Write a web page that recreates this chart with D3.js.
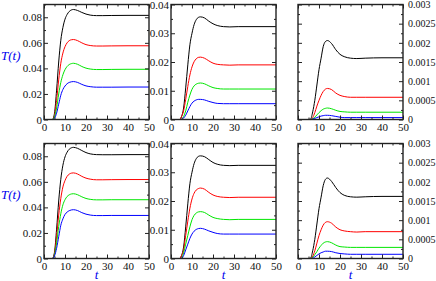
<!DOCTYPE html>
<html>
<head>
<meta charset="utf-8">
<script src="https://cdn.jsdelivr.net/npm/d3@7"></script>
<style>
  body { margin: 0; background: #fff; }
  svg { display: block; }
  text { font-family: "Liberation Serif", "DejaVu Serif", Times, serif; }
</style>
</head>
<body>
<div id="chart"></div>
<script>
// canvas size
const WIDTH = 436;
const HEIGHT = 281;
// panel layout
const COL_LEFT = [44, 171, 298];
const PANEL_W = 105;
const ROW_TOP = [4.5, 143.5];
const PANEL_H = 115;

// time axis samples
const tValues = [0, 4, 5, 6, 7, 8, 9, 10, 11, 12, 13, 14, 16, 18, 20, 22, 25, 28, 32, 40, 50];
const xTicks = [0, 10, 20, 30, 40, 50];
const xMinor = [5, 15, 25, 35, 45];

// per-column y ranges
const yMax = [0.09, 0.04, 0.003];
const yStep = [0.02, 0.01, 0.0005];

const lineColors = ["#000000", "#ff0000", "#00e600", "#0000ff"];

// series: black, red, green, blue
const topLeft = [
  [0, 0, .005, .023, .045, .062, .072, .0785, .0822, .0845, .0857, .0861, .0853, .0838, .0825, .0817, .0813, .0813, .0814, .0815, .0815],
  [0, 0, .003, .015, .031, .044, .052, .057, .0600, .0617, .0624, .0626, .0617, .0600, .0586, .0579, .0575, .0575, .0576, .0577, .0577],
  [0, 0, .002, .009, .020, .029, .035, .039, .0415, .0430, .0437, .0440, .0432, .0415, .0402, .0395, .0391, .0391, .0392, .0393, .0393],
  [0, 0, .001, .005, .012, .019, .0235, .0262, .0280, .0290, .0295, .0297, .0290, .0275, .0263, .0257, .0253, .0253, .0253, .0254, .0254]
];
const topMiddle = [
  [0, 0, .001, .004, .011, .019, .026, .030, .0330, .0347, .0355, .0357, .0353, .0342, .0333, .0327, .0323, .0322, .0323, .0323, .0323],
  [0, 0, .001, .003, .007, .0115, .0155, .0183, .0201, .0211, .0216, .0217, .0213, .0204, .0196, .0192, .0190, .0189, .0190, .0190, .0190],
  [0, 0, 0, .001, .003, .006, .0085, .0105, .0117, .0123, .0126, .0127, .0124, .0117, .0111, .0108, .0106, .0106, .0106, .0106, .0106],
  [0, 0, 0, .0005, .0015, .003, .0045, .0057, .0064, .0068, .0070, .0070, .0068, .0063, .0059, .0056, .0055, .0055, .0055, .0055, .0055]
];
const topRight = [
  [0, 0, 0, .00001, .0002, .0005, .0009, .0013, .0016, .0019, .00203, .00206, .00198, .00182, .0017, .00164, .0016, .00159, .0016, .00161, .00161],
  [0, 0, 0, 0, .00005, .00018, .00035, .0005, .00063, .00073, .00079, .00081, .00078, .00069, .00063, .0006, .00058, .00058, .00058, .00058, .00058],
  [0, 0, 0, 0, .00002, .00006, .00012, .00018, .00023, .00027, .00029, .0003, .00028, .00024, .00021, .0002, .00019, .00019, .00019, .00019, .00019],
  [0, 0, 0, 0, .00001, .00003, .00005, .00007, .00009, .0001, .00011, .00011, .0001, .00008, .00006, .00005, .00005, .00005, .00005, .00005, .00005]
];
const bottomLeft = [
  [0, 0, .005, .023, .045, .062, .073, .0795, .0832, .0855, .0866, .0870, .0862, .0845, .0829, .0819, .0813, .0812, .0812, .0813, .0813],
  [0, 0, .004, .017, .034, .047, .056, .061, .0643, .0660, .0668, .0670, .0661, .0643, .0629, .0621, .0616, .0616, .0617, .0618, .0618],
  [0, 0, .003, .012, .025, .035, .042, .046, .0485, .0498, .0505, .0507, .0499, .0483, .0470, .0463, .0459, .0459, .0460, .0460, .0460],
  [0, 0, .002, .008, .017, .026, .031, .0345, .0363, .0374, .0380, .0382, .0375, .0359, .0347, .0340, .0336, .0336, .0337, .0337, .0337]
];
const bottomMiddle = [
  [0, 0, .001, .004, .011, .019, .026, .030, .0330, .0347, .0355, .0357, .0354, .0344, .0334, .0328, .0324, .0323, .0324, .0324, .0324],
  [0, 0, .001, .003, .008, .013, .0175, .0207, .0227, .0238, .0243, .0245, .0241, .0230, .0221, .0216, .0213, .0212, .0213, .0213, .0213],
  [0, 0, 0, .002, .005, .008, .011, .0135, .0150, .0158, .0162, .0163, .0160, .0151, .0143, .0139, .0136, .0135, .0136, .0136, .0136],
  [0, 0, 0, .001, .003, .005, .007, .0085, .0095, .0101, .0104, .0105, .0102, .0096, .0091, .0087, .0085, .0085, .0085, .0085, .0085]
];
const bottomRight = [
  [0, 0, 0, .00001, .0002, .0005, .0009, .0013, .0016, .0019, .00206, .0021, .00201, .00185, .00172, .00165, .00161, .0016, .00161, .00162, .00162],
  [0, 0, 0, 0, .00006, .0002, .0004, .0006, .00075, .00087, .00094, .00096, .00092, .00082, .00075, .00072, .0007, .00069, .0007, .0007, .0007],
  [0, 0, 0, 0, .00003, .0001, .00018, .00027, .00034, .0004, .00043, .00044, .00041, .00035, .00031, .0003, .00029, .00029, .00029, .00029, .00029],
  [0, 0, 0, 0, .00001, .00004, .00008, .00012, .00015, .00017, .00019, .00019, .00018, .00015, .00013, .00012, .00011, .00011, .00011, .00011, .00011]
];

const panels = [
  [topLeft, topMiddle, topRight],
  [bottomLeft, bottomMiddle, bottomRight]
];

const FONT = "'Liberation Serif', 'DejaVu Serif', Times, serif";
const fmt = d => d === 0 ? "0" : String(+d.toFixed(6));

let svg = d3.select("#chart")
  .append("svg")
  .attr("width", WIDTH)
  .attr("height", HEIGHT);

let xScale = d3.scaleLinear().domain([0, 50]).range([0, PANEL_W]);

panels.forEach((row, r) => {
  row.forEach((series, c) => {
    let g = svg.append("g")
      .attr("transform", `translate(${COL_LEFT[c]},${ROW_TOP[r]})`);

    let yScale = d3.scaleLinear().domain([0, yMax[c]]).range([PANEL_H, 0]);
    // major ticks that fit inside the domain, minor ones halfway
    let nMajor = Math.floor(yMax[c] / yStep[c] + 1e-6);
    let yMajor = d3.range(nMajor + 1).map(i => +(i * yStep[c]).toFixed(6));
    let yMinor = d3.range(2 * nMajor + 2).map(i => +(i * yStep[c] / 2).toFixed(6))
      .filter((v, i) => i % 2 === 1 && v <= yMax[c] + 1e-9);

    // curves
    let line = d3.line()
      .x((d, i) => xScale(tValues[i]))
      .y(d => yScale(d))
      .curve(d3.curveMonotoneX);

    g.selectAll(".curve")
      .data(series)
      .enter()
      .append("path")
      .attr("class", "curve")
      .attr("d", d => line(d))
      .attr("fill", "none")
      .attr("stroke", (d, i) => lineColors[i])
      .attr("stroke-width", 1);

    // inward ticks on all four sides
    const addAxis = (axis, tx, ty, size) => {
      let a = g.append("g")
        .attr("transform", `translate(${tx},${ty})`)
        .call(axis)
        .attr("font-family", FONT);
      a.select(".domain").remove();
      a.selectAll("line").attr("stroke", "#222");
      a.selectAll("text")
        .attr("fill", "#111")
        .style("font-size", (size || 11) + "px")
        .style("font-family", FONT);
      return a;
    };

    addAxis(d3.axisBottom(xScale).tickValues(xTicks).tickSize(-4).tickPadding(4).tickFormat(d3.format("d")), 0, PANEL_H);
    addAxis(d3.axisBottom(xScale).tickValues(xMinor).tickSize(-2).tickFormat(""), 0, PANEL_H);
    addAxis(d3.axisTop(xScale).tickValues(xTicks).tickSize(-4).tickFormat(""), 0, 0);
    addAxis(d3.axisTop(xScale).tickValues(xMinor).tickSize(-2).tickFormat(""), 0, 0);

    let labelsRight = c === 2;
    addAxis(d3.axisLeft(yScale).tickValues(yMajor).tickSize(-4).tickPadding(2)
      .tickFormat(labelsRight ? "" : fmt), 0, 0);
    addAxis(d3.axisLeft(yScale).tickValues(yMinor).tickSize(-2).tickFormat(""), 0, 0);
    addAxis(d3.axisRight(yScale).tickValues(yMajor).tickSize(-4).tickPadding(5)
      .tickFormat(labelsRight ? fmt : ""), PANEL_W, 0, 10);
    addAxis(d3.axisRight(yScale).tickValues(yMinor).tickSize(-2).tickFormat(""), PANEL_W, 0);

    // frame
    g.append("rect")
      .attr("width", PANEL_W)
      .attr("height", PANEL_H)
      .attr("fill", "none")
      .attr("stroke", "#222")
      .attr("stroke-width", 1.4);

    if (c === 0) {
      svg.append("text")
        .attr("x", 1)
        .attr("y", ROW_TOP[r] + yScale(yMax[c] * 0.55) + 4)
        .attr("fill", "#0000ee")
        .style("font-family", FONT)
        .style("font-style", "italic")
        .style("font-size", "13px")
        .text("T(t)");
    }
    if (r === 1) {
      svg.append("text")
        .attr("x", COL_LEFT[c] + PANEL_W / 2)
        .attr("y", HEIGHT - 2)
        .attr("text-anchor", "middle")
        .attr("fill", "#0000ee")
        .style("font-family", FONT)
        .style("font-style", "italic")
        .style("font-size", "13px")
        .text("t");
    }
  });
});
</script>
</body>
</html>
